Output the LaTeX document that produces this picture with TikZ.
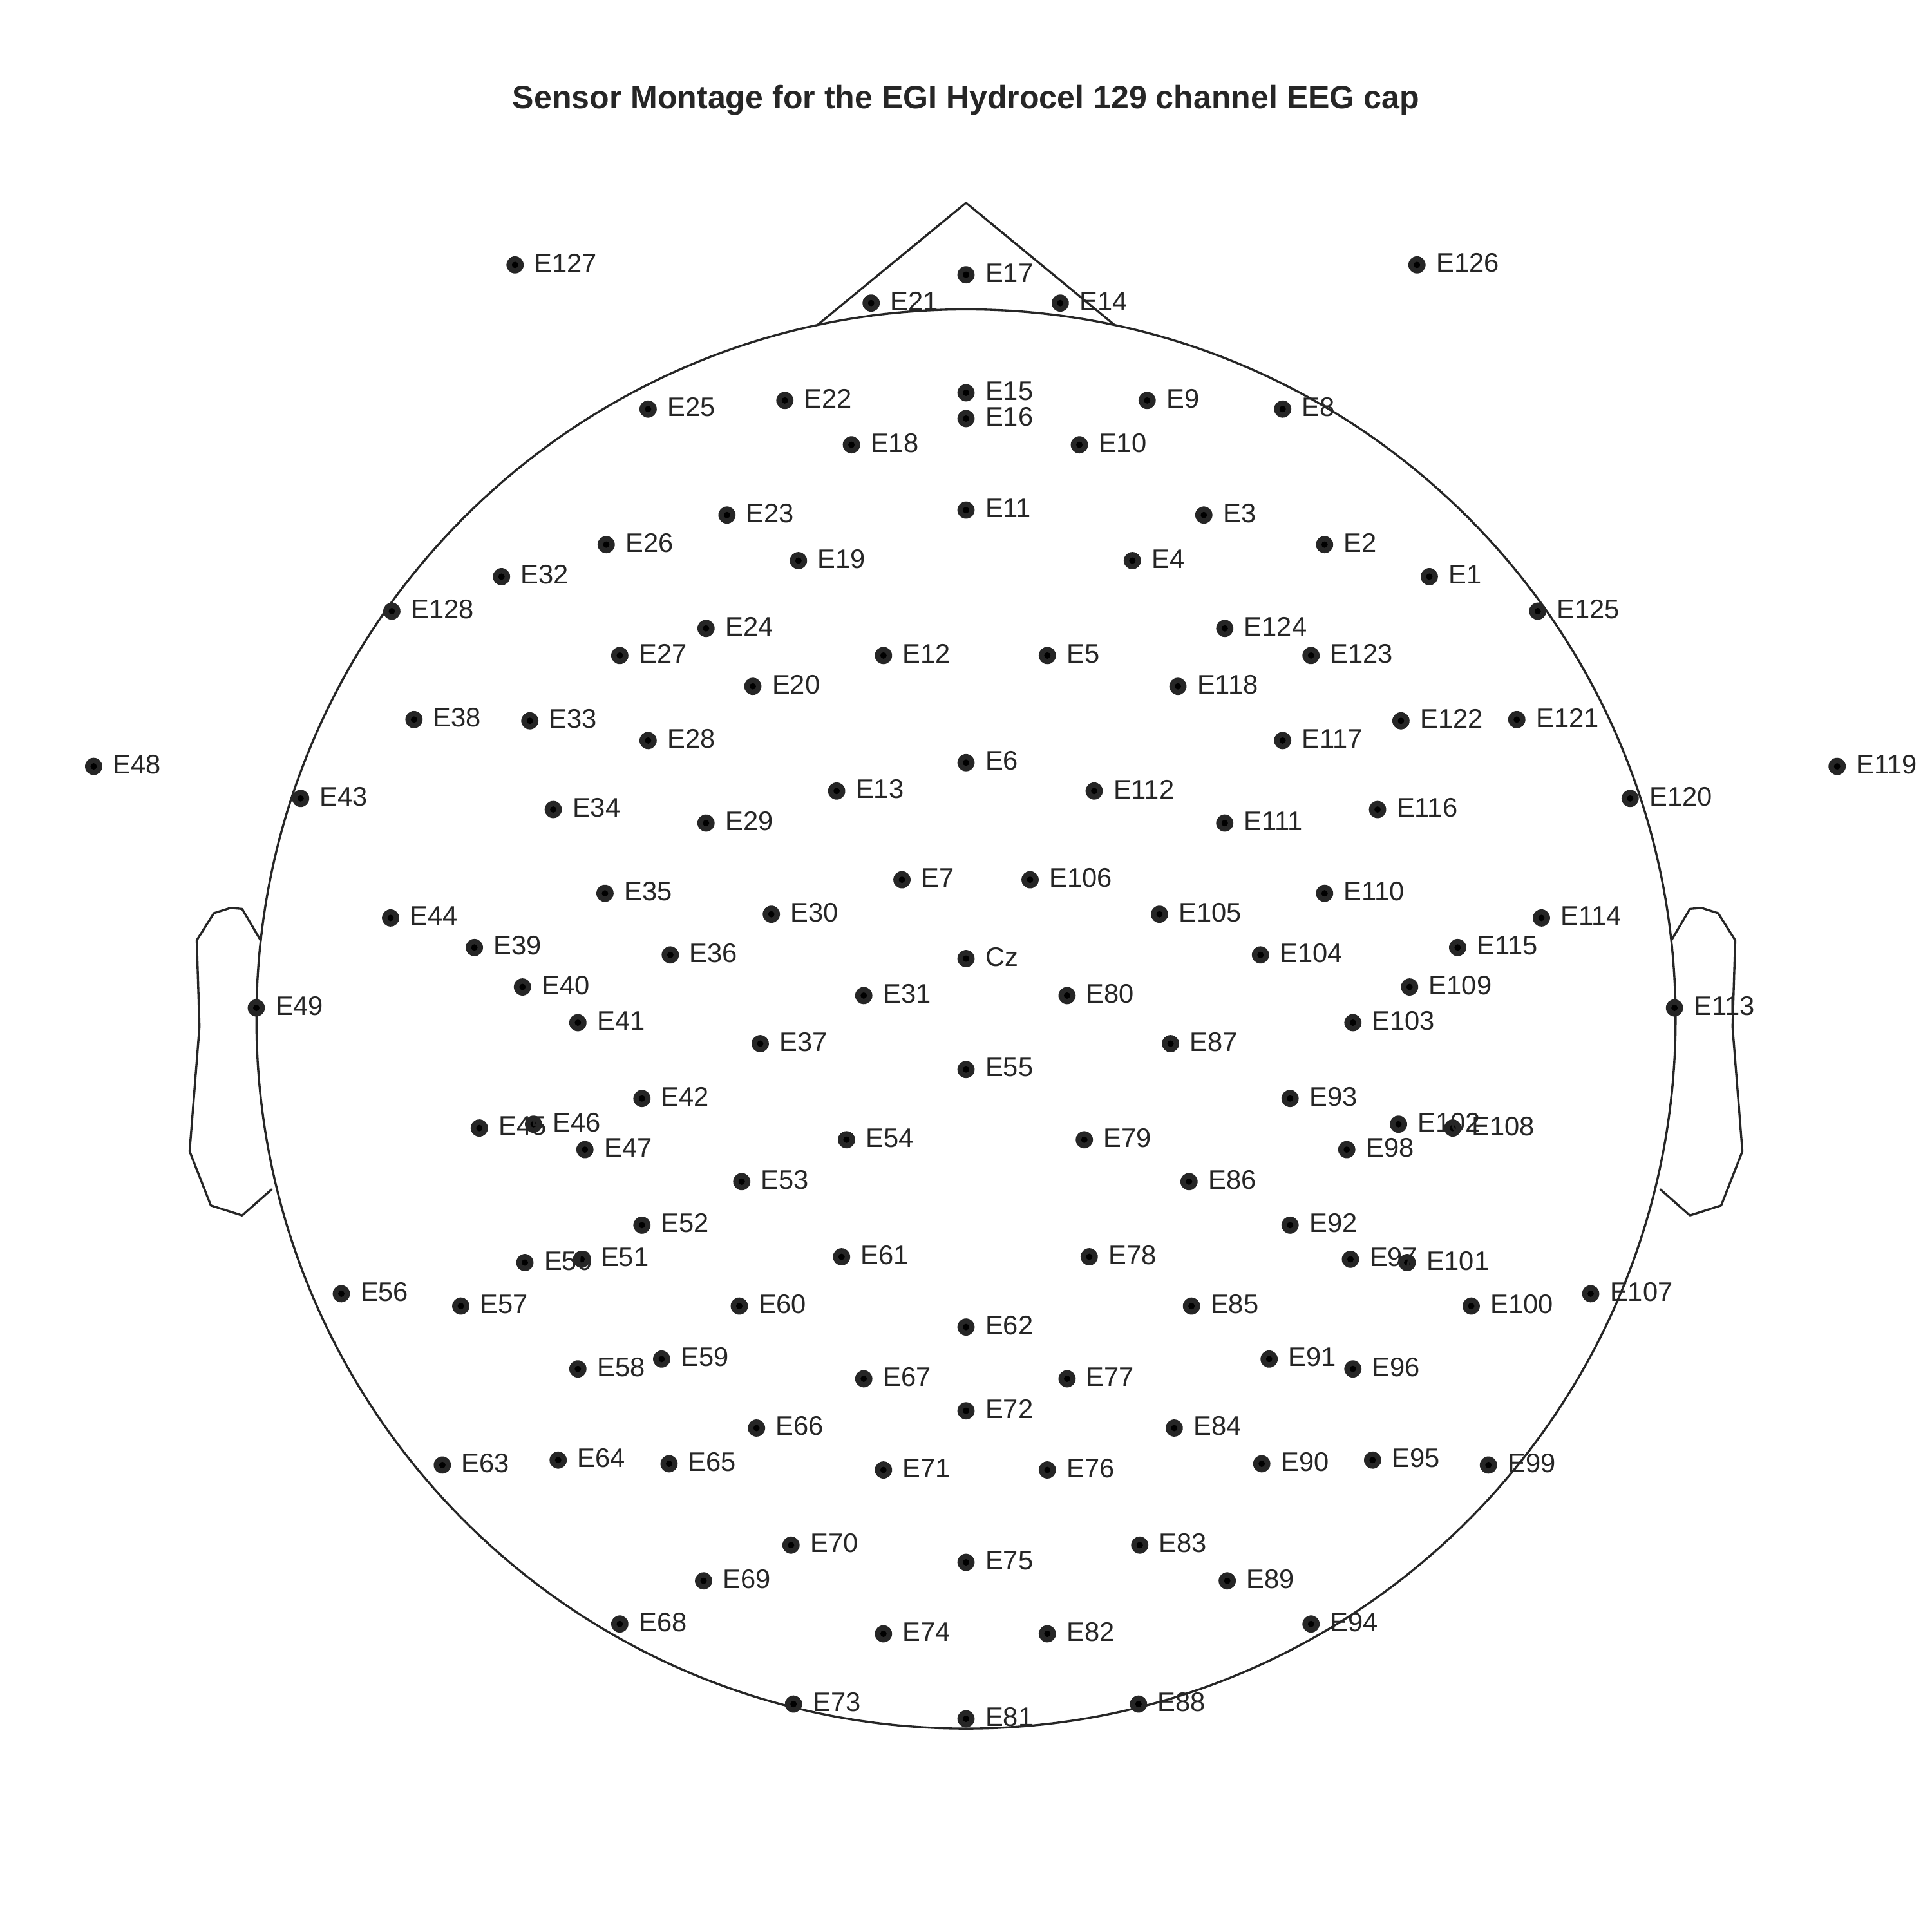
\documentclass[tikz,border=0pt]{standalone}
\usepackage{fontspec}
\setmainfont{Liberation Sans}
\usetikzlibrary{positioning}
\definecolor{inkgray}{HTML}{262626}

% sensor positions (x/y/name)
\def\sensors{418/215/E127, 1150/215/E126, 784/223/E17, 707/246/E21, 860.5/246/E14,
    784/318.8/E15, 784/339.7/E16, 637/325/E22, 526/332/E25, 931/325/E9, 1041/332/E8,
    691/361/E18, 876/361/E10, 784/414/E11, 590/418/E23, 977/418/E3, 492/442/E26, 1075/442/E2,
    648/455/E19, 919/455/E4, 407/468/E32, 1160/468/E1, 318/496/E128, 1248/496/E125,
    573/510/E24, 994/510/E124, 503/532/E27, 717/532/E12, 850/532/E5, 1064/532/E123,
    611/557/E20, 956/557/E118, 336/584/E38, 430/585/E33, 1137/585/E122, 1231/584/E121,
    526/601/E28, 1041/601/E117, 784/619/E6, 76/622/E48, 1491/622/E119,
    679/642/E13, 888/642/E112, 244/648/E43, 1323/648/E120, 449/657/E34, 1118/657/E116,
    573/668/E29, 994/668/E111, 732/714/E7, 836/714/E106, 491/725/E35, 1075/725/E110,
    626/742/E30, 941/742/E105, 317/745/E44, 1251/745/E114, 385/769/E39, 1183/769/E115,
    544/775/E36, 1023/775/E104, 784/778/Cz, 424/801/E40, 1144/801/E109, 701/808/E31, 866/808/E80,
    208/818/E49, 1359/818/E113, 469/830/E41, 1098/830/E103, 617/847/E37, 950/847/E87,
    784/868/E55, 521/891.5/E42, 1047/891.5/E93, 433/912.4/E46, 389/915.5/E45,
    1135/912.4/E102, 1179/915.5/E108,
    474.7/933/E47, 1093/933/E98, 687/925/E54, 880/925/E79, 602/959/E53, 965/959/E86,
    521/994.3/E52, 1047/994.3/E92, 683/1020/E61, 884/1020/E78, 472/1022/E51, 426/1024.7/E50,
    1096/1022/E97, 1142/1024.7/E101, 277/1050/E56, 1291/1050/E107, 374/1060/E57, 600/1060/E60,
    967/1060/E85, 1194/1060/E100, 784/1077/E62, 537/1103/E59, 1030/1103/E91, 469/1111/E58,
    1098/1111/E96, 701/1119/E67, 866/1119/E77, 784/1145/E72, 614/1159/E66, 953/1159/E84,
    453/1185/E64, 1114/1185/E95, 359/1189/E63, 1208/1189/E99, 543/1188/E65, 1024/1188/E90,
    717/1193/E71, 850/1193/E76, 642/1254/E70, 925/1254/E83, 784/1268/E75, 571/1283/E69,
    996/1283/E89, 503/1318/E68, 1064/1318/E94, 717/1326/E74, 850/1326/E82,
    644/1383/E73, 924/1383/E88, 784/1395/E81}

\begin{document}
\begin{tikzpicture}[
    x=0.02cm, y=-0.02cm,
    outline/.style={draw=inkgray, line width=1pt, line join=round},
    sensor/.style={circle, fill=inkgray, minimum size=0.28cm, inner sep=0pt,
        path picture={\fill[black] (path picture bounding box.center) circle (0.052cm);}},
    chan/.style={text=inkgray, inner sep=0pt, font=\fontsize{12.4}{14}\selectfont},
    heading/.style={text=inkgray, inner sep=0pt, font=\fontsize{14.9}{17}\selectfont\bfseries}
]
\useasboundingbox (0,0) rectangle (1568,1568);

% Title
\node[heading, anchor=base] (title) at (784,88)
    {Sensor Montage for the EGI Hydrocel 129 channel EEG cap};

% Head, nose and ears
\draw[outline] (784,827) circle [radius=11.52cm];
\draw[outline] (663.4,263.8) -- (784,164.6) -- (904.6,263.8);
\foreach \side in {1,-1} {
  \begin{scope}[shift={(784,0)}, xscale=\side]
    \draw[outline] (-572.5,763.1) -- (-587.5,737.7) -- (-596.7,736.8) -- (-610.4,741.1)
        -- (-624.3,763.1) -- (-622.1,833.3) -- (-630.1,934.4) -- (-612.9,978.3)
        -- (-587.5,986.4) -- (-563.3,965.1);
  \end{scope}
}

% Sensors
\foreach \x/\y/\n in \sensors
  \node[sensor] (s\n) at (\x,\y) {};

% Channel labels
\foreach \x/\y/\n in \sensors
  \node[chan, right=0.16cm of s\n, yshift=0.03cm] (\n) {\n};

\end{tikzpicture}
\end{document}
